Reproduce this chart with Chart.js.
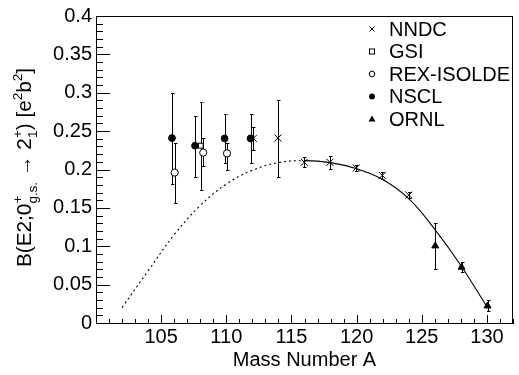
<!DOCTYPE html>
<html lang="en">
<head>
    <meta charset="UTF-8">
    <title>B(E2) vs Mass Number</title>
    <script src="https://cdn.jsdelivr.net/npm/chart.js"></script>
    <style>
        body { margin: 0; background: #fff; }
        #wrap { width: 519px; height: 375px; }
    </style>
</head>
<body>
    <div id="wrap"><canvas id="be2Chart" width="519" height="375"></canvas></div>

    <script>
        const nndcA  = [112.07, 113.96, 115.98, 117.95, 119.97, 121.97, 124.0];
        const nndcB  = [0.2405, 0.241, 0.2094, 0.2094, 0.202, 0.1923, 0.1667];
        const nndcLo = [0.226, 0.19, 0.203, 0.2008, 0.198, 0.188, 0.163];
        const nndcHi = [0.255, 0.29, 0.216, 0.218, 0.206, 0.197, 0.171];

        const gsiA  = [108.03];
        const gsiB  = [0.231];
        const gsiLo = [0.173];
        const gsiHi = [0.288];

        const rexA  = [106.04, 108.23, 110.05];
        const rexB  = [0.196, 0.222, 0.221];
        const rexLo = [0.156, 0.204, 0.199];
        const rexHi = [0.235, 0.241, 0.235];

        const nsclA  = [105.83, 107.6, 109.87, 111.86];
        const nsclB  = [0.241, 0.231, 0.2405, 0.2405];
        const nsclLo = [0.181, 0.190, 0.2085, 0.2085];
        const nsclHi = [0.300, 0.270, 0.272, 0.272];

        const ornlA  = [126.03, 128.05, 130.05];
        const ornlB  = [0.1004, 0.0726, 0.0222];
        const ornlLo = [0.0705, 0.067, 0.015];
        const ornlHi = [0.130, 0.079, 0.030];

        // calculation curve (dashed below A=116)
        const fitA = [102, 104, 106, 108, 110, 112, 114, 116, 118, 120, 122, 124, 126, 128, 130];
        const fitB = [0.020, 0.068, 0.115, 0.153, 0.181, 0.199, 0.209, 0.2115, 0.209, 0.201, 0.187, 0.162, 0.122, 0.075, 0.021];
        const dashBelow = 116;

        const FONT = 'Liberation Sans, Arial, Helvetica, sans-serif';
        Chart.defaults.color = '#000';
        Chart.defaults.font.family = FONT;

        const pts = (xs, ys) => xs.map((x, i) => ({ x: x, y: ys[i] }));

        // Error bars drawn behind the markers
        const errBars = {
            id: 'errBars',
            beforeDatasetsDraw(chart) {
                const { ctx, scales: { x, y } } = chart;
                ctx.save();
                ctx.strokeStyle = '#000';
                ctx.lineWidth = 1;
                chart.data.datasets.forEach(ds => {
                    if (!ds.lo) return;
                    ds.data.forEach((p, i) => {
                        const px = Math.round(x.getPixelForValue(p.x)) + 0.5;
                        const y1 = Math.round(y.getPixelForValue(ds.lo[i])) + 0.5;
                        const y2 = Math.round(y.getPixelForValue(ds.hi[i])) + 0.5;
                        ctx.beginPath();
                        ctx.moveTo(px, y1); ctx.lineTo(px, y2);
                        ctx.moveTo(px - 1.5, y1); ctx.lineTo(px + 2, y1);
                        ctx.moveTo(px - 1.5, y2); ctx.lineTo(px + 2, y2);
                        ctx.stroke();
                    });
                });
                ctx.restore();
            }
        };

        // ROOT style inner ticks, frame, legend and y title
        const decor = {
            id: 'decor',
            afterDraw(chart) {
                const { ctx, chartArea: a, scales: { x, y } } = chart;
                ctx.save();
                ctx.strokeStyle = '#000';
                ctx.lineWidth = 1;
                ctx.beginPath();
                // frame top / right
                ctx.moveTo(a.left, Math.round(a.top) + 0.5); ctx.lineTo(a.right, Math.round(a.top) + 0.5);
                ctx.moveTo(Math.round(a.right) - 0.5, a.top); ctx.lineTo(Math.round(a.right) - 0.5, a.bottom);
                // x ticks
                for (let v = x.min; v <= x.max; v++) {
                    const px = Math.round(x.getPixelForValue(v)) + 0.5;
                    const len = v % 5 === 0 ? 8 : 4;
                    ctx.moveTo(px, a.bottom); ctx.lineTo(px, a.bottom - len);
                }
                // y ticks
                for (let k = 0; k <= 40; k++) {
                    const py = Math.round(y.getPixelForValue(k / 100)) + 0.5;
                    const len = k % 5 === 0 ? 14 : 7;
                    ctx.moveTo(a.left, py); ctx.lineTo(a.left + len, py);
                }
                ctx.stroke();

                // legend
                const items = [
                    ['NNDC', 'cross'], ['GSI', 'square'], ['REX-ISOLDE', 'open'],
                    ['NSCL', 'dot'], ['ORNL', 'tri']
                ];
                ctx.font = '20px ' + FONT;
                ctx.textBaseline = 'middle';
                ctx.textAlign = 'left';
                ctx.fillStyle = '#000';
                items.forEach((it, i) => {
                    const cy = 29 + i * 22.5, cx = 372;
                    ctx.beginPath();
                    if (it[1] === 'cross') {
                        ctx.moveTo(cx - 2.5, cy - 2.5); ctx.lineTo(cx + 2.5, cy + 2.5);
                        ctx.moveTo(cx - 2.5, cy + 2.5); ctx.lineTo(cx + 2.5, cy - 2.5);
                        ctx.stroke();
                    } else if (it[1] === 'square') {
                        ctx.strokeRect(cx - 2.5, cy - 2.5, 5, 5);
                    } else if (it[1] === 'open') {
                        ctx.arc(cx, cy, 2.8, 0, Math.PI * 2); ctx.stroke();
                    } else if (it[1] === 'dot') {
                        ctx.arc(cx, cy, 3, 0, Math.PI * 2); ctx.fill();
                    } else {
                        ctx.moveTo(cx, cy - 3.5); ctx.lineTo(cx + 3.5, cy + 2.5); ctx.lineTo(cx - 3.5, cy + 2.5);
                        ctx.closePath(); ctx.fill();
                    }
                    ctx.fillText(it[0], 389, cy + 1);
                });

                // y axis title with sub/superscripts
                const big = '20px ' + FONT, small = '13px ' + FONT;
                const parts = [
                    ['B(E2;0', big, 0],
                    [['+', 'g.s.'], small, 0],
                    [' \u2192 2', big, 0],
                    [['+', '1'], small, 0],
                    [') [e', big, 0],
                    ['2', small, -9],
                    ['b', big, 0],
                    ['2', small, -9],
                    [']', big, 0]
                ];
                const widthOf = p => {
                    ctx.font = p[1];
                    if (Array.isArray(p[0])) return Math.max(...p[0].map(s => ctx.measureText(s).width));
                    return ctx.measureText(p[0]).width;
                };
                const total = parts.reduce((s, p) => s + widthOf(p), 0);
                const span = 199;
                ctx.translate(31, 267);
                ctx.rotate(-Math.PI / 2);
                ctx.scale(span / total, 1);
                ctx.textBaseline = 'alphabetic';
                let tx = 0;
                parts.forEach(p => {
                    const w = widthOf(p);
                    ctx.font = p[1];
                    if (Array.isArray(p[0])) {
                        ctx.fillText(p[0][0], tx, -9);
                        ctx.fillText(p[0][1], tx, 6);
                    } else {
                        ctx.fillText(p[0], tx, p[2]);
                    }
                    tx += w;
                });
                ctx.restore();
            }
        };

        const ctx = document.getElementById('be2Chart').getContext('2d');
        new Chart(ctx, {
            type: 'scatter',
            data: {
                datasets: [
                    {
                        label: 'NNDC', data: pts(nndcA, nndcB), lo: nndcLo, hi: nndcHi,
                        pointStyle: 'crossRot', pointRadius: 5, borderColor: '#000', borderWidth: 1
                    },
                    {
                        label: 'NSCL', data: pts(nsclA, nsclB), lo: nsclLo, hi: nsclHi,
                        pointStyle: 'circle', pointRadius: 3.4, backgroundColor: '#000', borderColor: '#000', borderWidth: 1
                    },
                    {
                        label: 'REX-ISOLDE', data: pts(rexA, rexB), lo: rexLo, hi: rexHi,
                        pointStyle: 'circle', pointRadius: 3.6, backgroundColor: '#fff', borderColor: '#000', borderWidth: 1
                    },
                    {
                        label: 'GSI', data: pts(gsiA, gsiB), lo: gsiLo, hi: gsiHi,
                        pointStyle: 'rect', pointRadius: 3.5, backgroundColor: '#fff', borderColor: '#000', borderWidth: 1
                    },
                    {
                        label: 'ORNL', data: pts(ornlA, ornlB), lo: ornlLo, hi: ornlHi,
                        pointStyle: 'triangle', pointRadius: 4, backgroundColor: '#000', borderColor: '#000', borderWidth: 1
                    },
                    {
                        label: 'fit', type: 'line', data: pts(fitA, fitB),
                        showLine: true, pointRadius: 0, borderColor: '#000', borderWidth: 1.1,
                        tension: 0.4, fill: false,
                        segment: {
                            borderDash: c => c.p1.parsed.x <= dashBelow ? [2, 3] : undefined
                        }
                    }
                ]
            },
            options: {
                responsive: false,
                animation: false,
                layout: { padding: { top: 11, right: 1, left: 0, bottom: 0 } },
                plugins: {
                    legend: { display: false },
                    tooltip: { enabled: false }
                },
                scales: {
                    x: {
                        type: 'linear', min: 100, max: 132,
                        grid: { display: false, drawTicks: false },
                        border: { display: true, color: '#000', width: 1 },
                        ticks: {
                            stepSize: 5, padding: 2, font: { size: 20 }, maxRotation: 0,
                            autoSkip: false, includeBounds: false,
                            callback: v => (v % 5 === 0 && v > 100) ? v : ''
                        },
                        title: { display: true, text: 'Mass Number A', font: { size: 20 }, padding: { top: 0, bottom: 3 } },
                        afterFit: s => { s.height = 52; }
                    },
                    y: {
                        type: 'linear', min: 0, max: 0.4,
                        grid: { display: false, drawTicks: false },
                        border: { display: true, color: '#000', width: 1 },
                        ticks: {
                            stepSize: 0.05, padding: 4, font: { size: 20 },
                            callback: v => String(Number(v.toFixed(2)))
                        },
                        afterFit: s => { s.width = 96; }
                    }
                }
            },
            plugins: [errBars, decor]
        });
    </script>
</body>
</html>
